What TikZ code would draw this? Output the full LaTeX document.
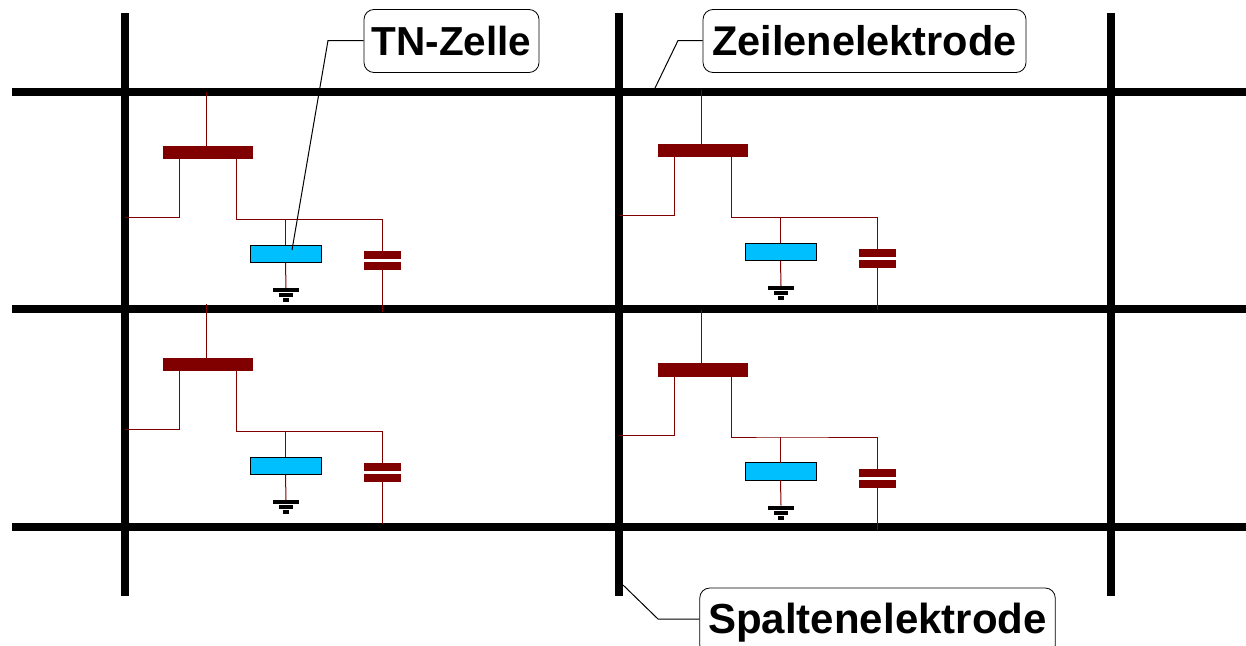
\documentclass[tikz,border=0pt]{standalone}
\usepackage{fontspec}
\setmainfont{Liberation Sans}
\definecolor{wirered}{HTML}{800000}
\definecolor{lcblue}{HTML}{00BFFF}
\tikzset{
  electrode/.style={line width=8pt,black},
  wire/.style={line width=1pt,wirered},
  leader/.style={line width=1pt,black},
  bar/.style={fill=wirered,draw=none,inner sep=0pt,outer sep=0pt,minimum width=#1},
  gatebar/.style={bar=90pt,minimum height=13.5pt},
  capbar/.style={bar=37pt,minimum height=8pt},
  lccell/.style={fill=lcblue,draw=black,line width=1pt,inner sep=0pt,outer sep=0pt,minimum width=71pt,minimum height=17.5pt},
  gnd/.style={fill=black,draw=none,inner sep=0pt,outer sep=0pt,minimum width=#1,minimum height=4pt},
  callout/.style={draw=black,fill=white,line width=0.8pt,rounded corners=10pt,inner sep=0pt,
    text height=30pt}
}
\begin{document}
\begin{tikzpicture}[x=1pt,y=-1pt]
\useasboundingbox (0,0) rectangle (1246,645);
\fill[white] (0,0) rectangle (1246,645);
% electrodes
\foreach \x in {125,619,1111}
  \draw[electrode] (\x,13) -- (\x,596);
\foreach \y in {92,309,527}
  \draw[electrode] (12,\y) -- (1246,\y);
% cells
\foreach \c/\dx/\dy in {1/0/0,2/495/-2,3/0/212,4/495/217.5}{
\begin{scope}[shift={(\dx pt,-\dy pt)}]
  \node[gatebar] (gate\c) at (208,152.5) {};
  \node[lccell] (lc\c) at (285.5,254) {};
  \node[capbar] (capt\c) at (382.5,255) {};
  \node[capbar] (capb\c) at (382.5,266) {};
  \node[gnd=26pt] (gnda\c) at (286,290) {};
  \node[gnd=14pt] (gndb\c) at (286,295) {};
  \node[gnd=6pt] (gndc\c) at (286,300) {};
  \coordinate (row\c) at (206,92);
  \coordinate (src\c) at (179.5,159);
  \coordinate (col\c) at (125,217.5);
  \coordinate (drn\c) at (236,159);
  \coordinate (nod\c) at (285.5,219.5);
  \coordinate (com\c) at (382.5,312);
  \draw[wire] (row\c) -- (row\c |- gate\c.north);
  \draw[wire] (src\c) |- (col\c);
  \draw[wire] (drn\c) |- (nod\c) -| (capt\c.north);
  \draw[wire] (nod\c) -- (lc\c.north);
  \draw[wire] (lc\c.south) -- (gnda\c.north);
  \draw[wire] (capb\c.south) -- (com\c);
\end{scope}
}
% callouts
\node[callout,minimum width=175pt,minimum height=63pt,font=\fontsize{40.5}{40.5}\selectfont\bfseries] (tn) at (451.5,41) {TN-Zelle};
\node[callout,minimum width=323pt,minimum height=63pt,font=\fontsize{41.5}{41.5}\selectfont\bfseries] (ze) at (864.5,41) {Zeilenelektrode};
\node[callout,minimum width=355.5pt,minimum height=67pt,text depth=6pt,font=\fontsize{42}{42}\selectfont\bfseries] (sp) at (877.5,621.5) {Spaltenelektrode};
\coordinate (tnend) at (292,250);
\coordinate (zeend) at (655,88);
\coordinate (spend) at (623,585);
\draw[leader] (tn.west |- 0,40.5) -- (328,40.5) -- (tnend);
\draw[leader] (ze.west |- 0,40.5) -- (678,40.5) -- (zeend);
\draw[leader] (sp.west |- 0,619) -- (658,619) -- (spend);
\end{tikzpicture}
\end{document}
